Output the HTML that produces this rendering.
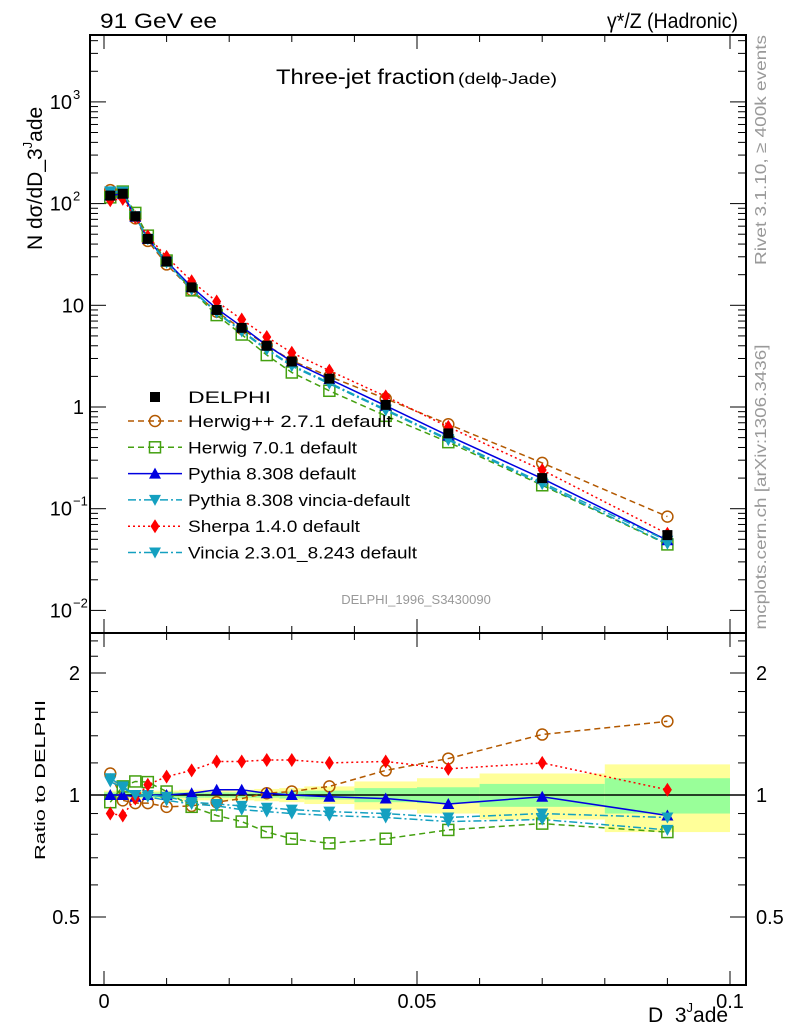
<!DOCTYPE html>
<html><head><meta charset="utf-8"><style>
body{margin:0;background:#fff;}
svg{font-family:"Liberation Sans",sans-serif;}
</style></head><body>
<svg id="c" width="786" height="1024" xmlns="http://www.w3.org/2000/svg"></svg>
<script>
const xs = [0.001,0.003,0.005,0.007,0.010,0.014,0.018,0.022,0.026,0.030,0.036,0.045,0.055,0.070,0.090];
const edges = [0,0.002,0.004,0.006,0.008,0.012,0.016,0.020,0.024,0.028,0.032,0.040,0.050,0.060,0.080,0.100];
const delphi = [120,125,75,45,27,15,9,6,4,2.8,1.9,1.05,0.55,0.2,0.055];
const statBand = [0.015,0.015,0.015,0.015,0.015,0.015,0.015,0.015,0.015,0.02,0.025,0.04,0.045,0.065,0.1];
const totBand = [0.025,0.025,0.025,0.025,0.025,0.03,0.03,0.03,0.035,0.04,0.05,0.08,0.1,0.13,0.19];
const rHerwigpp = [1.13,0.97,0.955,0.955,0.935,0.94,0.96,0.98,1.01,1.02,1.05,1.15,1.23,1.41,1.52];
const rHerwig7 = [0.96,1.05,1.08,1.076,1.02,0.935,0.89,0.86,0.81,0.78,0.76,0.78,0.82,0.85,0.81];
const rPythia = [1.0,1.0,0.99,1.0,1.0,1.01,1.03,1.03,1.01,1.0,0.99,0.98,0.95,0.99,0.89];
const rPyVincia = [1.1,1.05,1.0,1.0,0.99,0.96,0.95,0.94,0.93,0.92,0.91,0.90,0.88,0.90,0.88];
const rSherpa = [0.90,0.89,0.98,1.06,1.11,1.15,1.21,1.21,1.22,1.22,1.20,1.21,1.16,1.20,1.03];
const rVincia = [1.08,1.04,1.0,0.99,0.97,0.95,0.94,0.92,0.91,0.90,0.89,0.88,0.86,0.87,0.82];
const xTicks = [0,0.05,0.1];
const xTickLabels = ["0","0.05","0.1"];

const NS="http://www.w3.org/2000/svg", svg=document.getElementById('c');
const L=90,R=746,T=35,MB=633,RB=985;
const X=v=>104+v*6260;
const Y=v=>407-101.7*Math.log10(v);
const YR=r=>795-122*Math.log2(r);
function el(t,a,p){const e=document.createElementNS(NS,t);for(const k in a)e.setAttribute(k,a[k]);(p||svg).appendChild(e);return e;}
function tx(s,a,p,w){const e=el('text',a,p);e.textContent=s;if(w){e.setAttribute('textLength',w);e.setAttribute('lengthAdjust','spacingAndGlyphs');}return e;}

for(let i=0;i<xs.length;i++){
  const b=el('rect',{x:X(edges[i]),y:YR(1+totBand[i]),width:X(edges[i+1])-X(edges[i]),height:YR(1-totBand[i])-YR(1+totBand[i]),fill:'#ffff99'});
  
  
  const g=el('rect',{x:X(edges[i]),y:YR(1+statBand[i]),width:X(edges[i+1])-X(edges[i]),height:YR(1-statBand[i])-YR(1+statBand[i]),fill:'#99ff99'});
  
  
}
el('line',{x1:L,x2:R,y1:YR(1),y2:YR(1),stroke:'#000','stroke-width':1.5});

el('rect',{x:L,y:T,width:R-L,height:MB-T,fill:'none',stroke:'#000','stroke-width':2});
el('rect',{x:L,y:MB,width:R-L,height:RB-MB,fill:'none',stroke:'#000','stroke-width':2});

for(let v=0;v<=0.1001;v+=0.01){
  const big=Math.abs(v*20-Math.round(v*20))<1e-6;
  const h=big?14:7;
  for(const [a,b] of [[T,1],[MB,-1],[MB,1],[RB,-1]]) el('line',{x1:X(v),x2:X(v),y1:a,y2:a+b*h,stroke:'#000'});
}
xTicks.forEach((v,i)=>{const t=tx(xTickLabels[i],{x:X(v),y:1008,'font-size':20,'text-anchor':'middle'});
});
for(let e=-2;e<=3;e++){
  for(let m=1;m<10;m++){const v=m*Math.pow(10,e);const y=Y(v);if(y<T||y>MB)continue;
    const h=m==1?16:8;el('line',{x1:L,x2:L+h,y1:y,y2:y,stroke:'#000'});el('line',{x1:R,x2:R-h,y1:y,y2:y,stroke:'#000'});}
}
const yl=[[1e3,'10','3'],[1e2,'10','2'],[10,'10',''],[1,'1',''],[0.1,'10','−1'],[0.01,'10','−2']];
yl.forEach(([v,b,s])=>{const t=tx(b,{x:s?72:84,y:Y(v)+7,'font-size':20,'text-anchor':'end'});
 
 if(s)tx(s,{x:73,y:Y(v)-3,'font-size':13});});
[0.5,0.6,0.7,0.8,0.9,1,1.2,1.4,1.6,1.8,2,2.2,2.4].forEach(r=>{const big=(r==0.5||r==1||r==2);const h=big?16:8;
 el('line',{x1:L,x2:L+h,y1:YR(r),y2:YR(r),stroke:'#000'});el('line',{x1:R,x2:R-h,y1:YR(r),y2:YR(r),stroke:'#000'});});
[[2,'2'],[1,'1'],[0.5,'0.5']].forEach(([r,s])=>{
 tx(s,{x:80,y:YR(r)+7,'font-size':20,'text-anchor':'end'});
 tx(s,{x:756,y:YR(r)+7,'font-size':20});});

tx('91 GeV ee',{x:100,y:28,'font-size':21},null,117);
tx('γ*/Z (Hadronic)',{x:607,y:28,'font-size':21},null,131);
tx('Three-jet fraction',{x:276,y:84,'font-size':21},null,179);
tx('(delϕ-Jade)',{x:458,y:84,'font-size':16},null,99);
tx('DELPHI_1996_S3430090',{x:416,y:604,'font-size':13,fill:'#999','text-anchor':'middle'});
const yt=el('text',{x:0,y:0,'font-size':21,transform:'translate(42,250) rotate(-90)'});

yt.innerHTML='N dσ/dD_3<tspan font-size="13" dy="-10">J</tspan><tspan dy="10">ade</tspan>';
tx('Ratio to DELPHI',{x:0,y:0,'font-size':15,'text-anchor':'middle',transform:'translate(45,780) rotate(-90)'},null,160);
tx('Rivet 3.1.10, ≥ 400k events',{x:0,y:0,'font-size':16,fill:'#999','text-anchor':'middle',transform:'translate(766,150) rotate(-90)'},null,230);
tx('mcplots.cern.ch [arXiv:1306.3436]',{x:0,y:0,'font-size':16,fill:'#999','text-anchor':'middle',transform:'translate(766,487) rotate(-90)'},null,285);
const xt=el('text',{x:648,y:1022,'font-size':21});

xt.innerHTML='D_3<tspan font-size="13" dy="-10">J</tspan><tspan dy="10">ade</tspan>';

function marker(kind,color,x,y){
 const s=5.5;
 if(kind=='sq')return el('rect',{x:x-5,y:y-5,width:10,height:10,fill:'#000'});
 if(kind=='circ')return el('circle',{cx:x,cy:y,r:s,fill:'none',stroke:color,'stroke-width':1.5});
 if(kind=='osq')return el('rect',{x:x-s,y:y-s,width:2*s,height:2*s,fill:'none',stroke:color,'stroke-width':1.5});
 if(kind=='up')return el('polygon',{points:`${x},${y-6} ${x-6},${y+5} ${x+6},${y+5}`,fill:color});
 if(kind=='dn')return el('polygon',{points:`${x},${y+6} ${x-6},${y-5} ${x+6},${y-5}`,fill:color});
 if(kind=='dia')return el('polygon',{points:`${x},${y-7} ${x-4.5},${y} ${x},${y+7} ${x+4.5},${y}`,fill:color});
}
const series=[
 {n:'herwigpp',r:rHerwigpp,c:'#b35900',k:'circ',d:'6,4',lbl:'Herwig++ 2.7.1 default',w:204},
 {n:'herwig7',r:rHerwig7,c:'#44a010',k:'osq',d:'6,4',lbl:'Herwig 7.0.1 default',w:169},
 {n:'pythia',r:rPythia,c:'#0000e0',k:'up',d:'',lbl:'Pythia 8.308 default',w:168},
 {n:'pythia-vincia',r:rPyVincia,c:'#14a0c0',k:'dn',d:'8,3,2,3',lbl:'Pythia 8.308 vincia-default',w:222},
 {n:'sherpa',r:rSherpa,c:'#ff0000',k:'dia',d:'2,3',lbl:'Sherpa 1.4.0 default',w:172},
 {n:'vincia',r:rVincia,c:'#14a0c0',k:'dn',d:'8,3,2,3',lbl:'Vincia 2.3.01_8.243 default',w:229}];
series.forEach(s=>{
 const pm=xs.map((x,i)=>X(x)+','+Y(delphi[i]*s.r[i])).join(' ');
 const l1=el('polyline',{points:pm,fill:'none',stroke:s.c,'stroke-width':1.5,'stroke-dasharray':s.d});
 
 const pr=xs.map((x,i)=>X(x)+','+YR(s.r[i])).join(' ');
 const l2=el('polyline',{points:pr,fill:'none',stroke:s.c,'stroke-width':1.5,'stroke-dasharray':s.d});
 
 xs.forEach((x,i)=>{
  const m=marker(s.k,s.c,X(x),Y(delphi[i]*s.r[i]));
  
  const m2=marker(s.k,s.c,X(x),YR(s.r[i]));
  
 });
});
xs.forEach((x,i)=>{const m=marker('sq','#000',X(x),Y(delphi[i]));
 });

const lg=el('g',{});


lg.appendChild(marker('sq','#000',155,397));
tx('DELPHI',{x:188,y:403,'font-size':17},lg,83);
series.forEach((s,i)=>{const y=421+i*26.3;
 el('line',{x1:128,x2:182,y1:y,y2:y,stroke:s.c,'stroke-width':1.5,'stroke-dasharray':s.d},lg);
 lg.appendChild(marker(s.k,s.c,155,y));
 tx(s.lbl,{x:188,y:y+6,'font-size':17},lg,s.w);});
</script>
</body></html>
